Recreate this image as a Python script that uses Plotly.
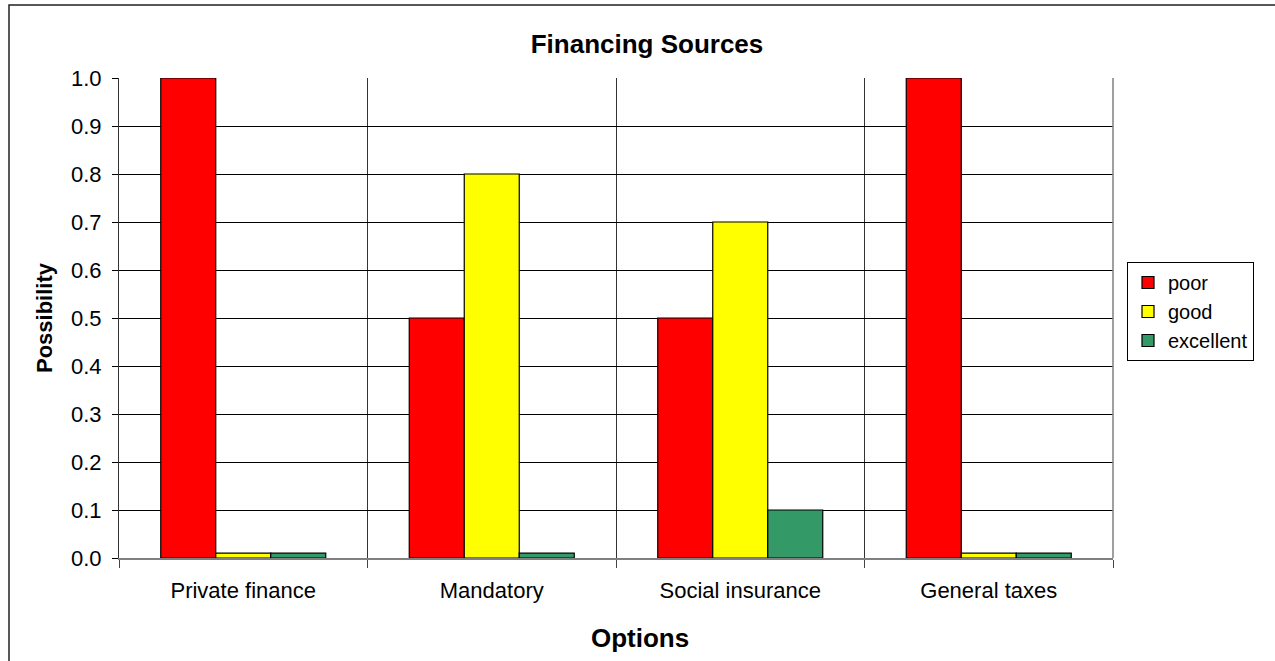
import plotly.graph_objects as go

categories = ["Private finance", "Mandatory", "Social insurance", "General taxes"]
poor = [1.0, 0.5, 0.5, 1.0]
good = [0.01, 0.8, 0.7, 0.01]
excellent = [0.01, 0.01, 0.1, 0.01]
y_ticks = [0.0, 0.1, 0.2, 0.3, 0.4, 0.5, 0.6, 0.7, 0.8, 0.9, 1.0]

FONT = "Liberation Sans, Arial, sans-serif"
L, R, T, B = 119, 162, 78, 103
W, H = 1275, 661
pw, ph = W - L - R, H - T - B

fig = go.Figure()
for name, vals, col in [("poor", poor, "#FF0000"), ("good", good, "#FFFF00"), ("excellent", excellent, "#339966")]:
    fig.add_trace(go.Bar(x=categories, y=vals, name=name,
                         marker=dict(color=col, line=dict(color="#000000", width=1.2))))

fig.update_layout(
    width=W, height=H,
    margin=dict(l=L, r=R, t=T, b=B),
    paper_bgcolor="white", plot_bgcolor="white",
    barmode="group", bargap=0.336, bargroupgap=0,
    font=dict(family=FONT, color="#000000"),
    title=dict(text="<b>Financing Sources</b>", x=647 / W, xanchor="center",
               y=1 - 44 / H, yanchor="middle", font=dict(size=26)),
    xaxis=dict(type="category", tickson="boundaries", showgrid=True, gridcolor="#333333", gridwidth=1,
               ticks="outside", ticklen=8, tickcolor="#444444",
               showline=True, linecolor="#808080", linewidth=1.5, mirror=False,
               tickfont=dict(size=22), ticklabelstandoff=12),
    yaxis=dict(range=[0, 1.0], tickvals=y_ticks, ticktext=[f"{v:.1f}" for v in y_ticks],
               showgrid=True, gridcolor="#000000", gridwidth=1,
               ticks="outside", ticklen=6, tickcolor="#000000",
               showline=True, linecolor="#333333", linewidth=1.2,
               zeroline=False, tickfont=dict(size=22), ticklabelstandoff=6,
               title=dict(text="<b>Possibility</b>", font=dict(size=22), standoff=12)),
    legend=dict(x=(1127 - L) / pw, xanchor="left", y=(558 - 262) / ph, yanchor="top",
                bordercolor="#000000", borderwidth=1, bgcolor="white",
                font=dict(size=20), itemwidth=30, tracegroupgap=4,
                entrywidth=100, entrywidthmode="pixels"),
    showlegend=True,
)

# x axis title centred on the chart
fig.add_annotation(text="<b>Options</b>", xref="paper", yref="paper",
                   x=(640 - L) / pw, y=(558 - 638) / ph, xanchor="center", yanchor="middle",
                   showarrow=False, font=dict(size=26))

# plot area right border (gray) and outer chart border
fig.add_shape(type="line", xref="paper", yref="paper", x0=1, x1=1, y0=0, y1=1,
              line=dict(color="#808080", width=1.5))
fig.add_shape(type="rect", xref="paper", yref="paper",
              x0=(9 - L) / pw, x1=(W + 20 - L) / pw,
              y0=(H - B - H - 20) / ph, y1=(H - B - 5) / ph,
              line=dict(color="#222222", width=1.5), layer="below")

fig.write_html("out.html")
